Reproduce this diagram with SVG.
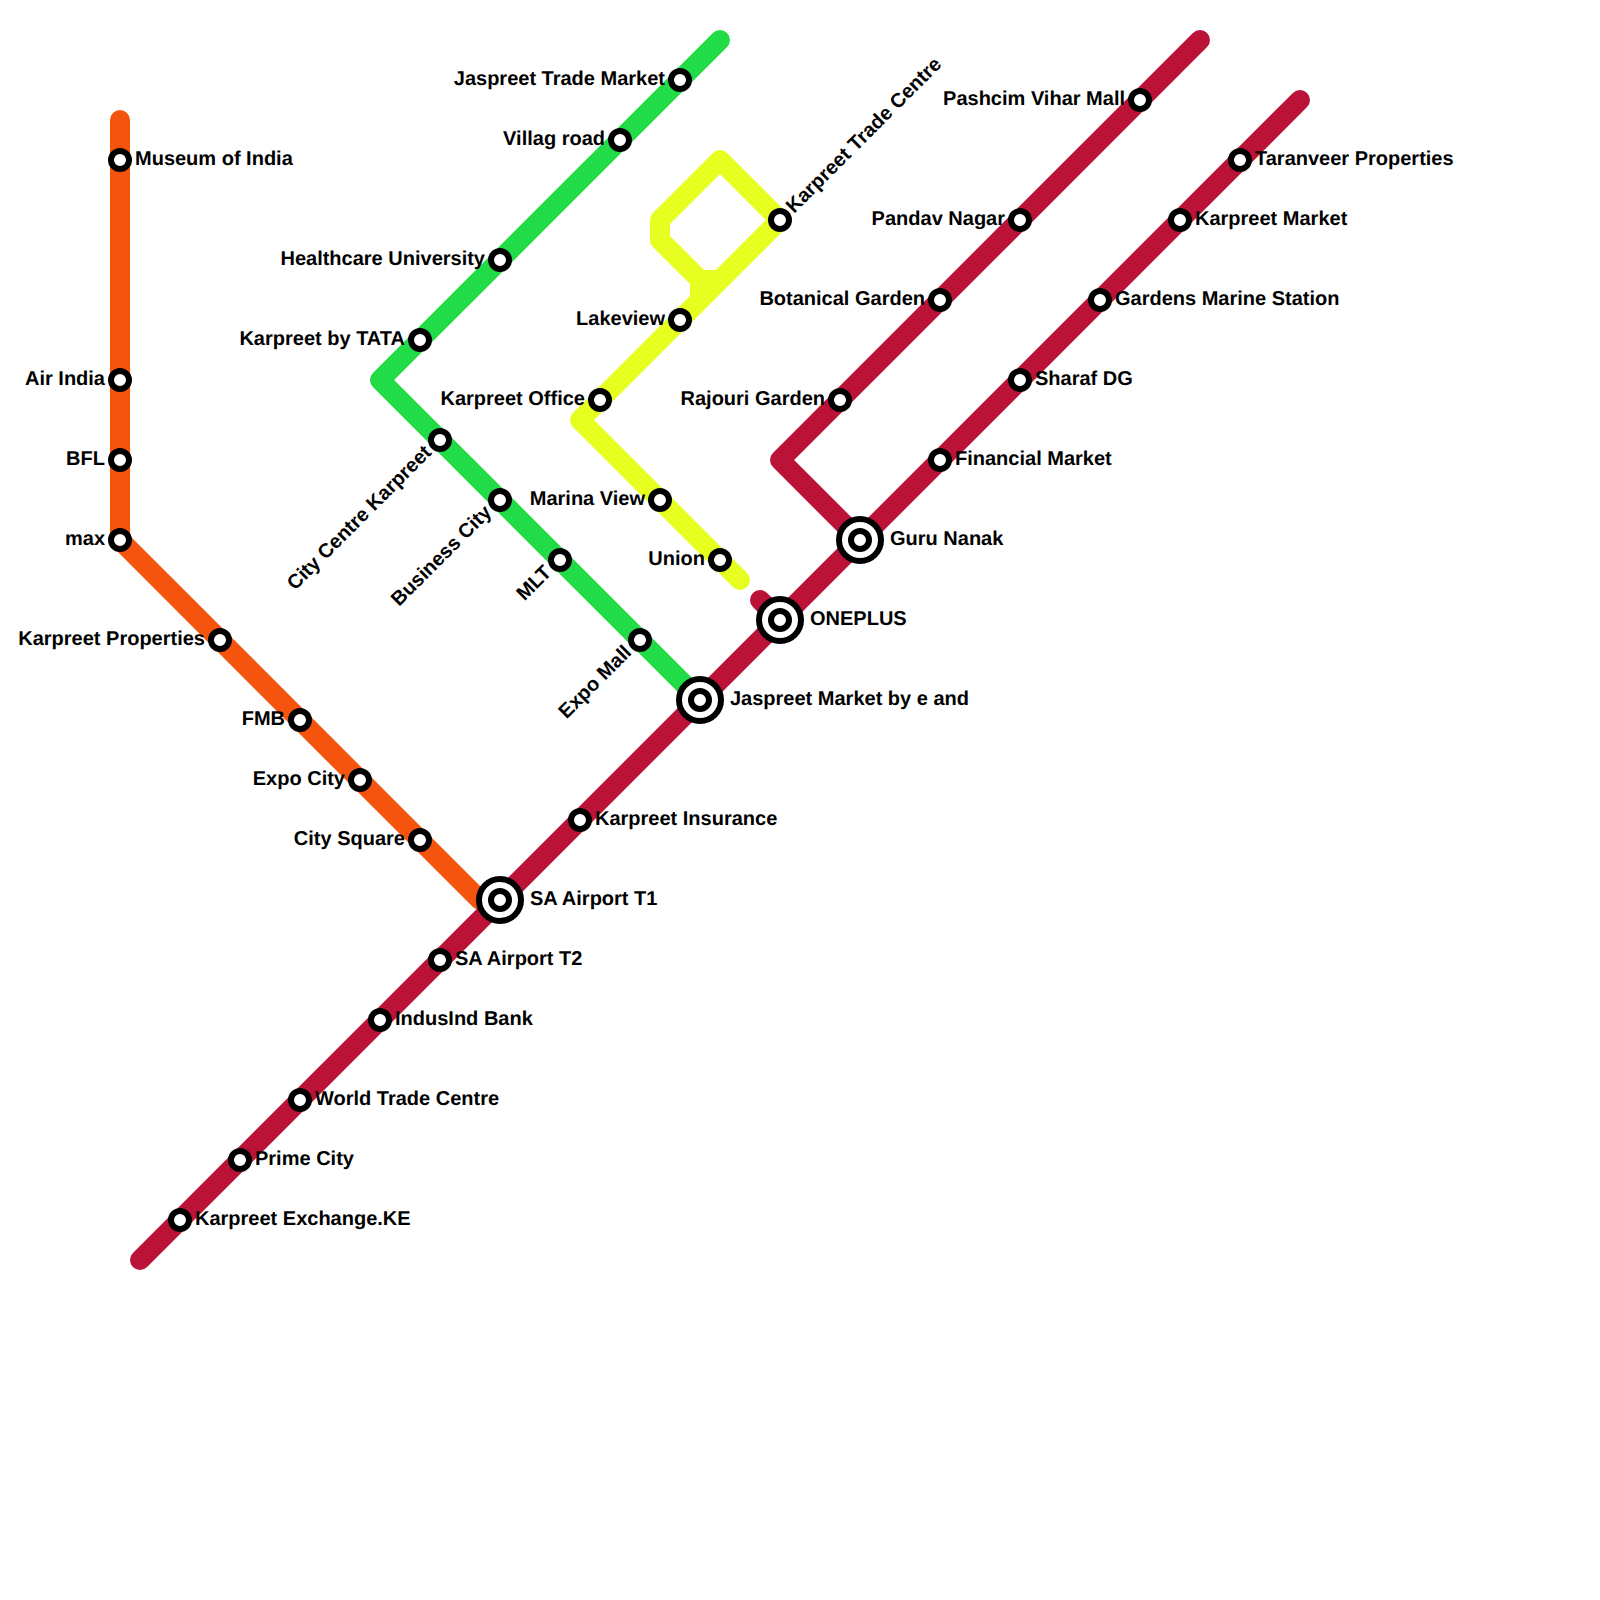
<svg xmlns="http://www.w3.org/2000/svg" width="1600" height="1600" viewBox="0 0 1600 1600">
<style>
.l{fill:none;stroke-width:20;stroke-linecap:round;stroke-linejoin:round}
.s{fill:#fff;stroke:#000;stroke-width:6}
text{font-family:"Liberation Sans",Arial,sans-serif;font-weight:700;font-size:20px;fill:#000;text-rendering:geometricPrecision}
.e{text-anchor:end}
</style>
<rect width="1600" height="1600" fill="#fff"/>
<g id="connectors">
<path class="l" style="stroke:#f5540f" d="M120 120V540L480 900H500"/>
<path class="l" style="stroke:#21db47" d="M720 40L380 380L700 700"/>
<path class="l" style="stroke:#e6ff21" d="M740 580L580 420L780 220L720 160L660 220V240L700 280H720M700 280V300"/>
<path class="l" style="stroke:#bb1238" d="M140 1260L1300 100M760 600L780 620M1200 40L780 460L860 540"/>
</g>
<g id="n1"><circle class="s" cx="120" cy="160" r="9"/><text x="135" y="165">Museum of India</text></g>
<g id="n2"><circle class="s" cx="120" cy="380" r="9"/><text class="e" x="105" y="385">Air India</text></g>
<g id="n3"><circle class="s" cx="120" cy="460" r="9"/><text class="e" x="105" y="465">BFL</text></g>
<g id="n4"><circle class="s" cx="120" cy="540" r="9"/><text class="e" x="105" y="545">max</text></g>
<g id="n5"><circle class="s" cx="220" cy="640" r="9"/><text class="e" x="205" y="645">Karpreet Properties</text></g>
<g id="n6"><circle class="s" cx="300" cy="720" r="9"/><text class="e" x="285" y="725">FMB</text></g>
<g id="n7"><circle class="s" cx="360" cy="780" r="9"/><text class="e" x="345" y="785">Expo City</text></g>
<g id="n8"><circle class="s" cx="420" cy="840" r="9"/><text class="e" x="405" y="845">City Square</text></g>
<g id="n9"><circle class="s" cx="680" cy="80" r="9"/><text class="e" x="665" y="85">Jaspreet Trade Market</text></g>
<g id="n10"><circle class="s" cx="620" cy="140" r="9"/><text class="e" x="605" y="145">Villag road</text></g>
<g id="n11"><circle class="s" cx="500" cy="260" r="9"/><text class="e" x="485" y="265">Healthcare University</text></g>
<g id="n12"><circle class="s" cx="420" cy="340" r="9"/><text class="e" x="405" y="345">Karpreet by TATA</text></g>
<g id="n13"><circle class="s" cx="440" cy="440" r="9"/><text class="e" transform="translate(432.500 453.500) rotate(-45)">City Centre Karpreet</text></g>
<g id="n14"><circle class="s" cx="500" cy="500" r="9"/><text class="e" transform="translate(492.500 513.500) rotate(-45)">Business City</text></g>
<g id="n15"><circle class="s" cx="560" cy="560" r="9"/><text class="e" transform="translate(552.500 573.500) rotate(-45)">MLT</text></g>
<g id="n16"><circle class="s" cx="640" cy="640" r="9"/><text class="e" transform="translate(632.500 653.500) rotate(-45)">Expo Mall</text></g>
<g id="n17"><circle class="s" cx="780" cy="220" r="9"/><text transform="translate(794 214) rotate(-45)">Karpreet Trade Centre</text></g>
<g id="n18"><circle class="s" cx="680" cy="320" r="9"/><text class="e" x="665" y="325">Lakeview</text></g>
<g id="n19"><circle class="s" cx="600" cy="400" r="9"/><text class="e" x="585" y="405">Karpreet Office</text></g>
<g id="n20"><circle class="s" cx="660" cy="500" r="9"/><text class="e" x="645" y="505">Marina View</text></g>
<g id="n21"><circle class="s" cx="720" cy="560" r="9"/><text class="e" x="705" y="565">Union</text></g>
<g id="n22"><circle class="s" cx="1140" cy="100" r="9"/><text class="e" x="1125" y="105">Pashcim Vihar Mall</text></g>
<g id="n23"><circle class="s" cx="1020" cy="220" r="9"/><text class="e" x="1005" y="225">Pandav Nagar</text></g>
<g id="n24"><circle class="s" cx="940" cy="300" r="9"/><text class="e" x="925" y="305">Botanical Garden</text></g>
<g id="n25"><circle class="s" cx="840" cy="400" r="9"/><text class="e" x="825" y="405">Rajouri Garden</text></g>
<g id="n26"><circle class="s" cx="1240" cy="160" r="9"/><text x="1255" y="165">Taranveer Properties</text></g>
<g id="n27"><circle class="s" cx="1180" cy="220" r="9"/><text x="1195" y="225">Karpreet Market</text></g>
<g id="n28"><circle class="s" cx="1100" cy="300" r="9"/><text x="1115" y="305">Gardens Marine Station</text></g>
<g id="n29"><circle class="s" cx="1020" cy="380" r="9"/><text x="1035" y="385">Sharaf DG</text></g>
<g id="n30"><circle class="s" cx="940" cy="460" r="9"/><text x="955" y="465">Financial Market</text></g>
<g id="n31"><circle class="s" cx="860" cy="540" r="21"/><circle class="s" cx="860" cy="540" r="9"/><text x="890" y="545">Guru Nanak</text></g>
<g id="n32"><circle class="s" cx="780" cy="620" r="21"/><circle class="s" cx="780" cy="620" r="9"/><text x="810" y="625">ONEPLUS</text></g>
<g id="n33"><circle class="s" cx="700" cy="700" r="21"/><circle class="s" cx="700" cy="700" r="9"/><text x="730" y="705">Jaspreet Market by e and</text></g>
<g id="n34"><circle class="s" cx="580" cy="820" r="9"/><text x="595" y="825">Karpreet Insurance</text></g>
<g id="n35"><circle class="s" cx="500" cy="900" r="21"/><circle class="s" cx="500" cy="900" r="9"/><text x="530" y="905">SA Airport T1</text></g>
<g id="n36"><circle class="s" cx="440" cy="960" r="9"/><text x="455" y="965">SA Airport T2</text></g>
<g id="n37"><circle class="s" cx="380" cy="1020" r="9"/><text x="395" y="1025">IndusInd Bank</text></g>
<g id="n38"><circle class="s" cx="300" cy="1100" r="9"/><text x="315" y="1105">World Trade Centre</text></g>
<g id="n39"><circle class="s" cx="240" cy="1160" r="9"/><text x="255" y="1165">Prime City</text></g>
<g id="n40"><circle class="s" cx="180" cy="1220" r="9"/><text x="195" y="1225">Karpreet Exchange.KE</text></g>
</svg>
